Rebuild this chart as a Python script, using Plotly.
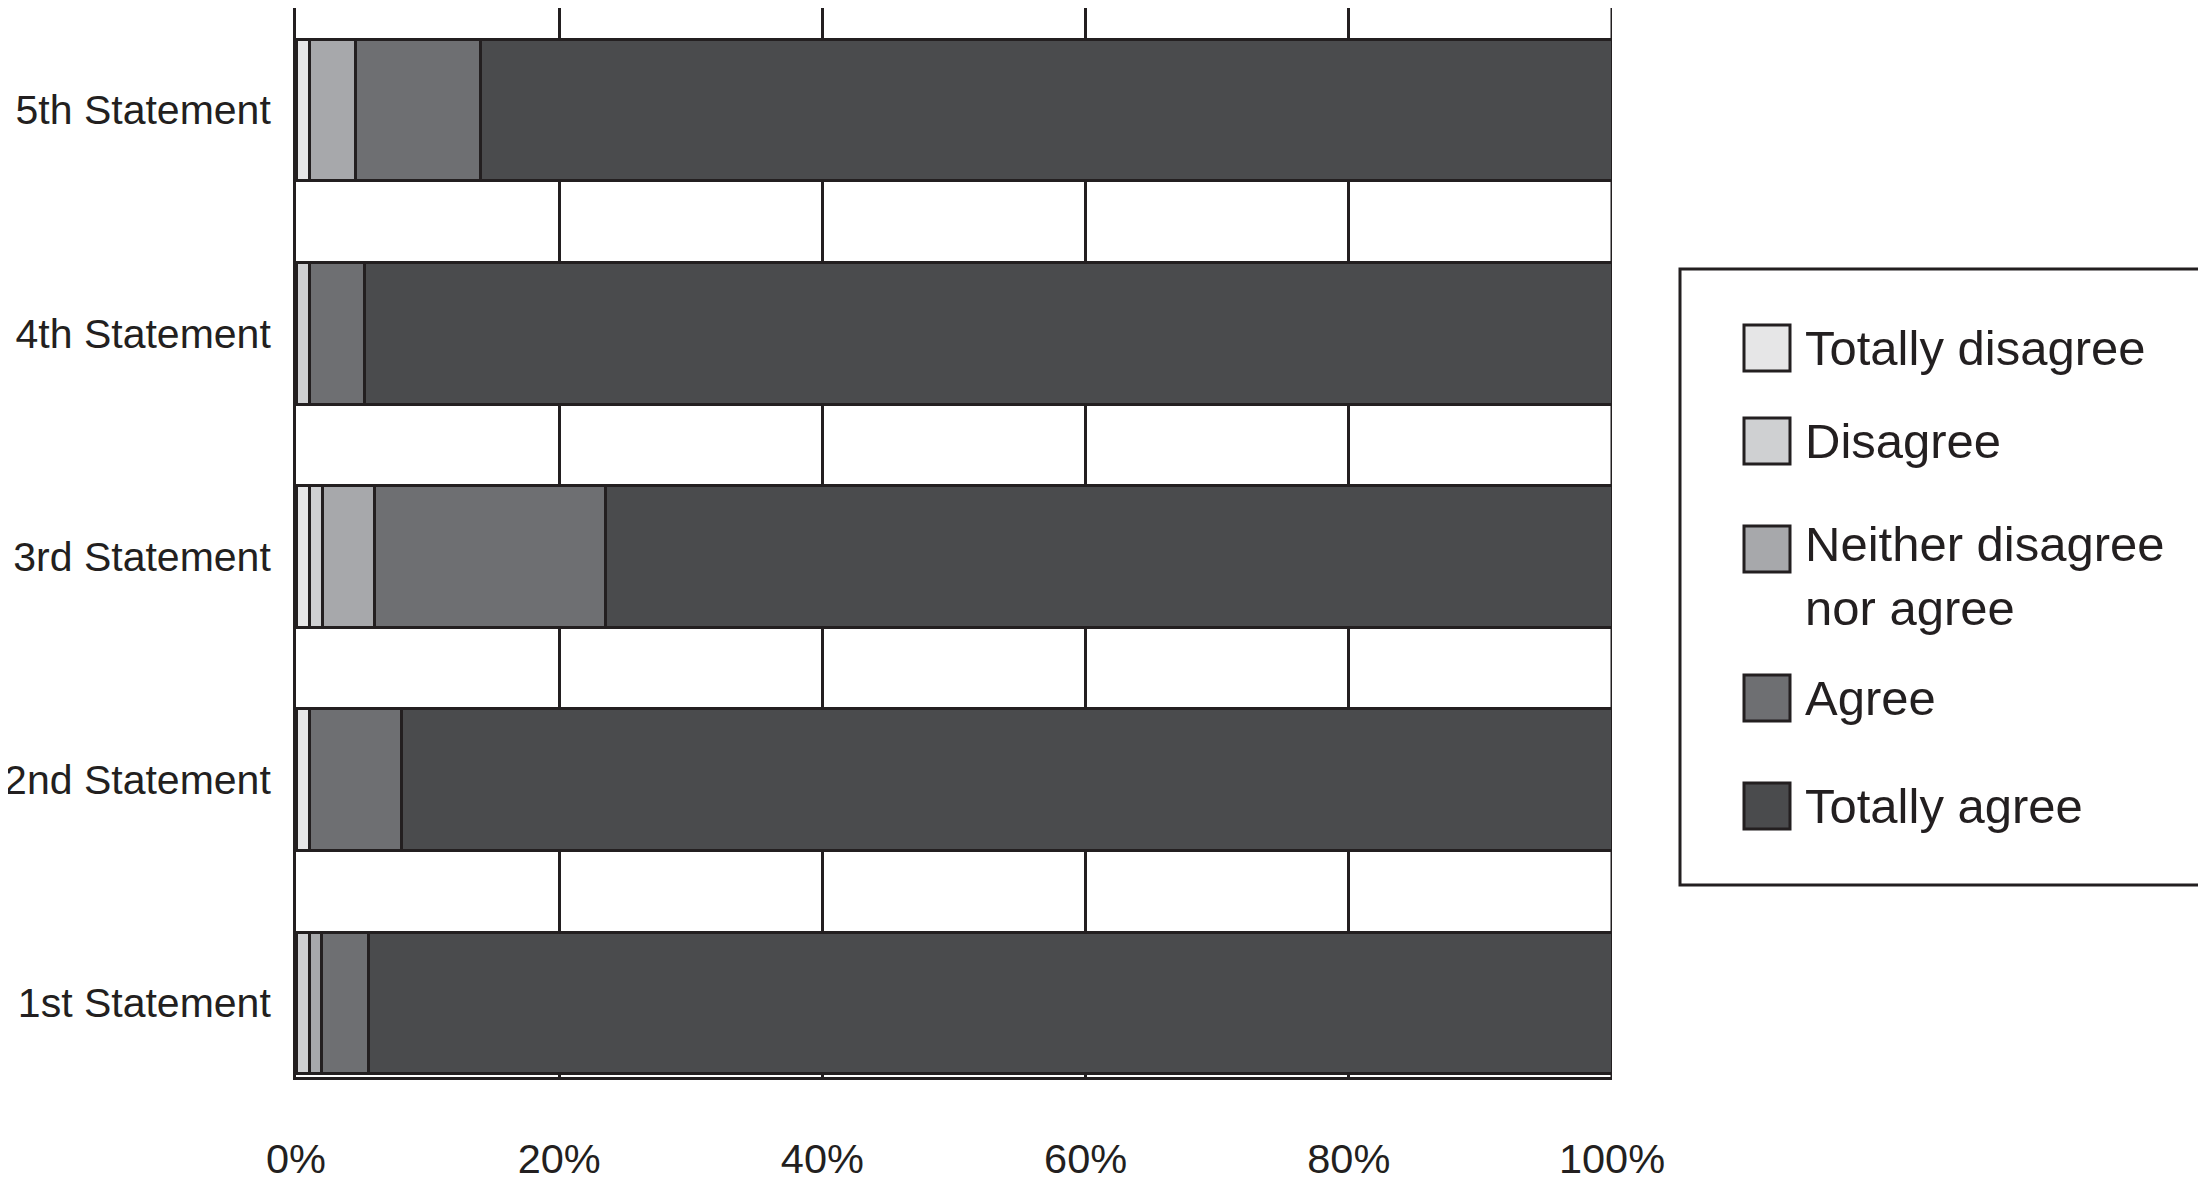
import plotly.graph_objects as go

# Survey answers per statement (percent of respondents)
statements = ['1st Statement', '2nd Statement', '3rd Statement', '4th Statement', '5th Statement']
answer_labels = ['Totally disagree', 'Disagree', 'Neither disagree<br>nor agree', 'Agree', 'Totally agree']
answer_colors = ['#e6e6e7', '#cfd0d2', '#a7a8ab', '#6e6f72', '#4a4b4d']

totally_disagree = [0, 1, 1, 0, 1]
disagree = [1, 0, 1, 1, 0]
neither = [0.9, 0, 4, 0, 3.5]
agree = [3.6, 7, 17.5, 4.2, 9.5]
totally_agree = [94.5, 92, 76.5, 94.8, 86]

x_ticks = [0, 20, 40, 60, 80, 100]
x_tick_text = ['0%', '20%', '40%', '60%', '80%', '100%']

INK = '#231f20'
FONT = 'Liberation Sans, Arial, Helvetica, sans-serif'

W, H = 2206, 1181
OFF_X, OFF_Y = 6, 8  # page offset of the plot div
# plot area in screen pixels: x 294..1610, bottom at 1077, top at the page edge
L = 294 - OFF_X
R = W - (1610 - OFF_X)
B = H - (1077 - OFF_Y)
T = 0
PW = W - L - R
PH = H - T - B

series = [totally_disagree, disagree, neither, agree, totally_agree]

fig = go.Figure()
for name, vals, col in zip(answer_labels, series, answer_colors):
    fig.add_trace(go.Bar(
        y=statements, x=vals, orientation='h', name=name,
        marker=dict(color=col, line=dict(color=INK, width=3)),
        showlegend=False,
    ))

# gridline at 100% (right edge of plot)
fig.add_shape(type='line', xref='x', yref='paper', x0=100, x1=100, y0=0, y1=1,
              line=dict(color=INK, width=3), layer='below')


def px_x(px):
    return (px - OFF_X - L) / PW


def px_y(py):
    return (T + PH - (py - OFF_Y)) / PH


# hand-drawn legend with large swatches, like the original
fig.add_shape(type='rect', xref='paper', yref='paper',
              x0=px_x(1678), x1=px_x(2203), y0=px_y(885), y1=px_y(269),
              line=dict(color=INK, width=3), fillcolor='white')
item_y = [348, 441, 549, 698, 806]
text_y = [348, 441, 576, 698, 806]
for name, col, sy, ty in zip(answer_labels, answer_colors, item_y, text_y):
    fig.add_shape(type='rect', xref='paper', yref='paper',
                  x0=px_x(1742), x1=px_x(1788), y0=px_y(sy + 23), y1=px_y(sy - 23),
                  line=dict(color=INK, width=3), fillcolor=col)
    fig.add_annotation(xref='paper', yref='paper', x=px_x(1801), y=px_y(ty),
                       xanchor='left', yanchor='middle', align='left', showarrow=False,
                       text=name, font=dict(size=49, color=INK, family=FONT))

fig.update_layout(
    barmode='stack',
    bargap=0.365,
    width=W, height=H,
    margin=dict(l=L, r=R, t=T, b=B, autoexpand=False),
    plot_bgcolor='white',
    paper_bgcolor='white',
    font=dict(family=FONT, size=41, color=INK),
)
fig.update_xaxes(
    range=[0, 100], tickvals=x_ticks, ticktext=x_tick_text,
    showgrid=True, gridcolor=INK, gridwidth=3,
    showline=True, linecolor=INK, linewidth=3,
    zeroline=False, ticks='', ticklabelstandoff=43, automargin=False,
    tickfont=dict(size=41.5, color=INK, family=FONT),
)
fig.update_yaxes(
    range=[-0.331, 4.457],
    showgrid=False, showline=True, linecolor=INK, linewidth=3,
    ticks='', ticklabelstandoff=14, automargin=False,
    tickfont=dict(size=41, color=INK, family=FONT),
)

fig.write_html("out.html")
